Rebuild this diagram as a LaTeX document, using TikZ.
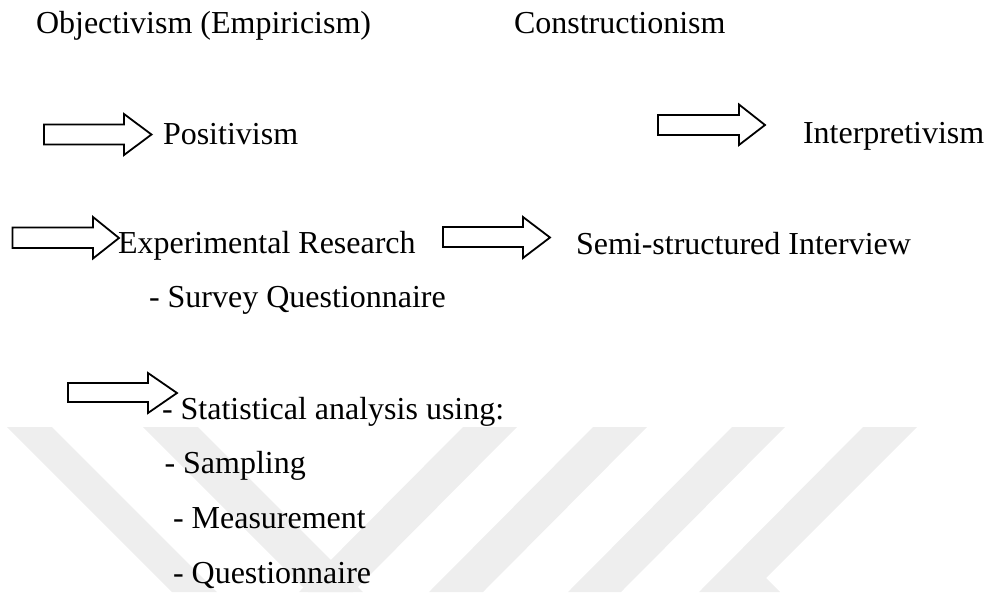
\documentclass[tikz,border=0pt]{standalone}
\usepackage{fontspec}
\setmainfont{Liberation Serif}
\definecolor{wmgray}{HTML}{EEEEEE}
\begin{document}
\begin{tikzpicture}[x=1pt,y=-1pt,
  lbl/.style={anchor=base west,inner sep=0pt,outer sep=0pt,font=\fontsize{32}{38}\selectfont},
  blockarr/.style={draw=black,line width=1.8pt,line join=miter,fill=white},
  wm/.style={fill=wmgray,draw=none}]
\useasboundingbox (0,0) rectangle (985,592);
% watermark
\fill[wm] (7,427) -- (52,427) -- (217,592) -- (172,592) -- cycle;
\fill[wm] (143,427) -- (198,427) -- (363,592) -- (308,592) -- cycle;
\fill[wm] (463,427) -- (517,427) -- (353,592) -- (299,592) -- cycle;
\fill[wm] (593,427) -- (647,427) -- (483,592) -- (429,592) -- cycle;
\fill[wm] (732,427) -- (785,427) -- (621,592) -- (568,592) -- cycle;
\fill[wm] (863,427) -- (917,427) -- (766,578) -- (780,592) -- (699,592) -- cycle;
% block arrows
\draw[blockarr] (44,124.5) -- (124,124.5) -- (124,114) -- (151.5,134.5) -- (124,155) -- (124,144.5) -- (44,144.5) -- cycle;
\draw[blockarr] (658,115) -- (739,115) -- (739,104.5) -- (765,125) -- (739,145) -- (739,135) -- (658,135) -- cycle;
\draw[blockarr] (12.5,227.5) -- (93,227.5) -- (93,217) -- (119,238) -- (93,258.5) -- (93,248) -- (12.5,248) -- cycle;
\draw[blockarr] (443,227) -- (523,227) -- (523,217) -- (550,237.5) -- (523,258) -- (523,247) -- (443,247) -- cycle;
\draw[blockarr] (68,383) -- (148,383) -- (148,373) -- (177,393) -- (148,413) -- (148,402) -- (68,402) -- cycle;
% texts
\node[lbl] (obj) at (36,33) {Objectivism (Empiricism)};
\node[lbl] (con) at (514,33) {Constructionism};
\node[lbl] (pos) at (163,144) {Positivism};
\node[lbl] (int) at (803,143) {Interpretivism};
\node[lbl] (exp) at (118,253.5) {Experimental Research};
\node[lbl] (semi) at (576,254) {Semi-structured Interview};
\node[lbl] (survey) at (149,307.5) {- Survey Questionnaire};
\node[lbl] (stat) at (162,419) {- Statistical analysis using:};
\node[lbl] (samp) at (164.5,473.5) {- Sampling};
\node[lbl] (meas) at (173,528) {- Measurement};
\node[lbl] (quest) at (173,583) {- Questionnaire};
\end{tikzpicture}
\end{document}
